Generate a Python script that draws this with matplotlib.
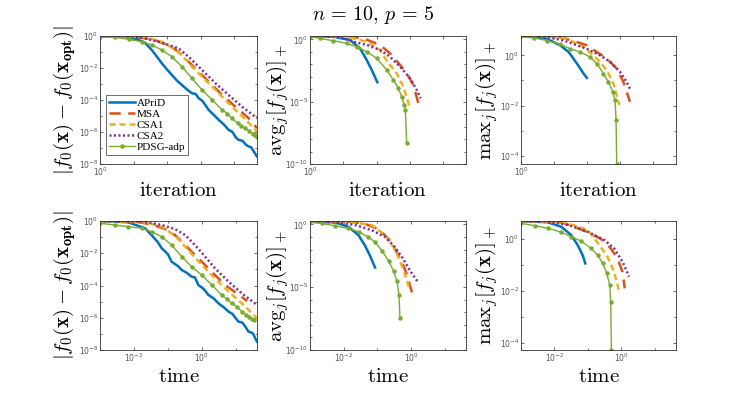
import matplotlib
matplotlib.use("Agg")
import matplotlib.pyplot as plt
from matplotlib.ticker import FixedLocator, FuncFormatter, NullLocator, NullFormatter
import numpy as np

plt.rcParams["mathtext.fontset"] = "dejavusans"
plt.rcParams["font.family"] = ["DejaVu Sans"]

methods = ["APriD", "MSA", "CSA1", "CSA2", "PDSG-adp"]
colours = ["#0072BD", "#D95319", "#EDB120", "#7E2F8E", "#77AC30"]

# every curve is stored as (log10 x, log10 y)
obj_iter = {
    "APriD": ([0, 0.5, 0.85, 1.1, 1.34, 1.54, 1.7, 1.84, 2.0, 2.14, 2.3, 2.44, 2.6, 2.74, 2.85, 2.94, 3.05, 3.24,
               3.4, 3.54, 3.7, 3.83, 3.95, 4.05, 4.13, 4.25, 4.35, 4.43, 4.5, 4.58, 4.68],
              [0, -0.02, -0.08, -0.2, -0.42, -0.87, -1.3, -1.7, -2.1, -2.43, -2.8, -3.06, -3.35, -3.58, -3.62, -3.89,
               -4.05, -4.62, -4.95, -5.24, -5.55, -5.86, -6.0, -6.35, -6.49, -6.55, -6.8, -6.9, -6.95, -7.2, -7.53]),
    "MSA": ([0, 1.05, 1.64, 2.14, 2.44, 2.84, 3.24, 3.64, 4.03, 4.43, 4.68],
            [0, -0.04, -0.25, -0.67, -1.19, -2.02, -2.85, -3.68, -4.41, -5.14, -5.76]),
    "CSA1": ([0, 1.34, 1.84, 2.34, 2.74, 3.14, 3.54, 3.93, 4.33, 4.68],
             [0, -0.08, -0.35, -0.98, -1.91, -2.74, -3.58, -4.41, -5.2, -5.97]),
    "CSA2": ([0, 0.85, 1.34, 1.84, 2.34, 2.64, 3.04, 3.44, 3.83, 4.23, 4.68],
             [0, 0, -0.15, -0.42, -0.77, -1.29, -2.12, -2.95, -3.68, -4.41, -5.14]),
    "PDSG-adp": ([0, 0.45, 0.85, 1.24, 1.54, 1.84, 2.14, 2.44, 2.74, 3.04, 3.34, 3.64, 3.8, 3.93, 4.1, 4.2,
                  4.33, 4.45, 4.55, 4.62, 4.68],
                 [-0.06, -0.08, -0.21, -0.35, -0.56, -0.87, -1.29, -1.91, -2.64, -3.37, -3.99, -4.62, -4.85, -5.14,
                  -5.45, -5.6, -5.76, -5.95, -6.1, -6.2, -6.32]),
}

avg_iter = {
    "APriD": ([0, 0.7, 1.2, 1.5, 1.7, 1.85, 2.02], [0.27, 0.21, -0.05, -0.72, -1.65, -2.45, -3.44]),
    "MSA": ([0, 1.1, 1.6, 2.1, 2.4, 2.7, 2.9, 3.1, 3.25], [0.27, 0.27, 0.08, -0.45, -1.12, -2.05, -2.72, -3.65, -5.12]),
    "CSA1": ([0, 1.1, 1.7, 2.1, 2.32, 2.6, 2.8, 3.0], [0.27, 0.21, -0.19, -0.85, -1.79, -2.72, -3.79, -5.52]),
    "CSA2": ([0, 0.9, 1.3, 1.7, 2.1, 2.4, 2.7, 3.0, 3.2, 3.32],
             [0.27, 0.21, -0.19, -0.45, -0.85, -1.39, -2.19, -3.12, -4.05, -4.72]),
    "PDSG-adp": ([0, 0.3, 0.7, 1.1, 1.4, 1.7, 2.0, 2.3, 2.5, 2.65, 2.75, 2.82, 2.86, 2.9],
                 [0.22, 0.08, -0.11, -0.32, -0.59, -0.99, -1.52, -2.45, -3.25, -3.92, -4.59, -5.25, -5.65, -8.32]),
}

max_iter = {
    "APriD": ([0, 0.78, 1.18, 1.44, 1.69, 1.89, 1.99], [0.77, 0.66, 0.4, 0.13, -0.33, -0.73, -0.9]),
    "MSA": ([0, 0.78, 1.18, 1.59, 1.99, 2.29, 2.59, 2.89, 3.09, 3.29],
            [0.77, 0.77, 0.73, 0.57, 0.4, 0.13, -0.13, -0.53, -1.06, -1.85]),
    "CSA1": ([0, 0.78, 1.38, 1.89, 2.29, 2.59, 2.79, 2.97], [0.77, 0.76, 0.66, 0.33, -0.13, -0.59, -1.12, -1.98]),
    "CSA2": ([0, 0.78, 1.29, 1.69, 1.99, 2.39, 2.69, 2.99, 3.19, 3.31],
             [0.77, 0.73, 0.59, 0.4, 0.26, 0.0, -0.26, -0.66, -1.06, -1.39]),
    "PDSG-adp": ([0, 0.38, 0.78, 1.18, 1.49, 1.79, 2.09, 2.29, 2.49, 2.64, 2.77, 2.84, 2.87, 2.89],
                 [0.77, 0.7, 0.59, 0.44, 0.26, 0.13, -0.07, -0.33, -0.73, -1.06, -1.45, -1.78, -2.58, -4.33]),
}

obj_time = {
    "APriD": ([-3.0, -2.17, -1.67, -1.48, -1.3, -1.18, -1.0, -0.89, -0.7, -0.59, -0.45, -0.3, -0.2, -0.1, 0.05, 0.2,
               0.35, 0.49, 0.65, 0.79, 0.9, 1.08, 1.2, 1.3, 1.38, 1.5, 1.63],
              [0, -0.08, -0.45, -0.87, -1.3, -1.69, -2.05, -2.52, -2.8, -3.04, -3.2, -3.45, -3.5, -3.97, -4.2, -4.59,
               -4.8, -5.1, -5.35, -5.62, -5.75, -6.24, -6.3, -6.6, -6.86, -6.95, -7.48]),
    "MSA": ([-3.0, -1.97, -1.48, -1.08, -0.79, -0.49, -0.2, 0.1, 0.39, 0.69, 0.99, 1.34],
            [0, -0.04, -0.21, -0.5, -0.87, -1.49, -2.11, -2.73, -3.35, -3.97, -4.42, -4.96]),
    "CSA1": ([-3.0, -1.67, -1.18, -0.79, -0.49, -0.2, 0.1, 0.39, 0.79, 1.18, 1.63],
             [0, -0.08, -0.35, -0.91, -1.59, -2.27, -2.93, -3.55, -4.38, -5.1, -6.03]),
    "CSA2": ([-3.0, -1.67, -1.18, -0.79, -0.49, -0.2, 0.1, 0.39, 0.79, 1.18, 1.63],
             [0, -0.04, -0.25, -0.5, -0.87, -1.49, -2.21, -2.93, -3.76, -4.48, -5.21]),
    "PDSG-adp": ([-3.0, -2.56, -2.17, -1.77, -1.48, -1.18, -0.89, -0.59, -0.3, 0.0, 0.3, 0.59, 0.75, 0.89, 1.05,
                  1.18, 1.3, 1.4, 1.47, 1.53],
                 [-0.14, -0.25, -0.35, -0.45, -0.66, -0.97, -1.49, -2.21, -2.83, -3.35, -3.97, -4.59, -4.85, -5.1,
                  -5.35, -5.62, -5.8, -5.95, -6.05, -6.14]),
}

avg_time = {
    "APriD": ([-3.0, -2.26, -1.86, -1.56, -1.37, -1.22, -1.07], [0.22, 0.16, -0.19, -0.86, -1.68, -2.49, -3.43]),
    "MSA": ([-3.0, -1.86, -1.37, -0.97, -0.67, -0.48, -0.28, -0.13, 0.04],
            [0.27, 0.22, 0.05, -0.38, -1.14, -1.95, -2.89, -3.97, -5.54]),
    "CSA1": ([-3.0, -1.86, -1.17, -0.77, -0.52, -0.33, -0.18, -0.06],
             [0.27, 0.22, -0.05, -0.86, -1.81, -2.89, -3.97, -5.05]),
    "CSA2": ([-3.0, -2.16, -1.66, -1.17, -0.77, -0.48, -0.23, -0.03, 0.22],
             [0.27, 0.16, -0.05, -0.46, -1.0, -1.81, -2.76, -3.7, -4.65]),
    "PDSG-adp": ([-3.0, -2.65, -2.26, -1.86, -1.56, -1.27, -1.07, -0.87, -0.67, -0.52, -0.42, -0.36, -0.33],
                 [0.16, 0.08, -0.11, -0.32, -0.59, -1.0, -1.41, -2.08, -2.89, -3.7, -4.51, -5.59, -7.49]),
}

max_time = {
    "APriD": ([-3.0, -2.2, -1.8, -1.5, -1.31, -1.16, -1.08], [0.69, 0.64, 0.47, 0.15, -0.23, -0.62, -0.94]),
    "MSA": ([-3.0, -1.8, -1.41, -1.01, -0.61, -0.32, -0.12, 0.03, 0.1],
            [0.69, 0.64, 0.47, 0.26, 0.0, -0.36, -0.74, -1.26, -1.9]),
    "CSA1": ([-3.0, -1.7, -1.01, -0.66, -0.42, -0.22, -0.07], [0.69, 0.64, 0.35, -0.23, -0.68, -1.26, -2.0]),
    "CSA2": ([-3.0, -2.2, -1.6, -1.01, -0.51, -0.22, 0.03, 0.23], [0.69, 0.67, 0.54, 0.28, -0.04, -0.36, -0.87, -1.45]),
    "PDSG-adp": ([-3.0, -2.59, -2.2, -1.8, -1.5, -1.21, -0.91, -0.71, -0.56, -0.44, -0.35, -0.32, -0.3],
                 [0.6, 0.51, 0.41, 0.26, 0.09, -0.08, -0.36, -0.62, -0.94, -1.32, -1.77, -2.41, -4.27]),
}

styles = {
    "APriD": dict(ls="-", lw=1.8),
    "MSA": dict(ls=(0, (4.5, 3)), lw=1.8),
    "CSA1": dict(ls=(0, (2.5, 1.5)), lw=1.8),
    "CSA2": dict(ls=(0, (0.8, 1.0)), lw=1.8),
    "PDSG-adp": dict(ls="-", lw=1.0, marker="o", ms=2.2),
}

ylabels = [r"$|f_0(\mathbf{x}) - f_0(\mathbf{x_{opt}})|$",
           r"$\mathrm{avg}_j[f_j(\mathbf{x})]_+$",
           r"$\mathrm{max}_j[f_j(\mathbf{x})]_+$"]

W, H = 747, 399
col_x = [100, 310, 521]
col_w = [157, 156, 155]
row_y = [(36, 164), (221, 350)]
ylabel_x = [-0.225, -0.21, -0.22]

panels = [
    [obj_iter, avg_iter, max_iter],
    [obj_time, avg_time, max_time],
]
ylims = [
    [(-8, 0), (-10, 0.27), (-4.33, 0.77)],
    [(-8, 0), (-10, 0.27), (-4.27, 0.69)],
]
yticks = [[0, -2, -4, -6, -8], [0, -5, -10], [0, -2, -4]]
xlims = [(0, 4.68), (-3.0, 1.63)]

fig = plt.figure(figsize=(W / 100, H / 100), dpi=100)


def sci(v, pos):
    return r"$10^{%d}$" % round(np.log10(v))


for r in range(2):
    top, bot = row_y[r]
    for c in range(3):
        ax = fig.add_axes([col_x[c] / W, 1 - bot / H, col_w[c] / W, (bot - top) / H])
        data = panels[r][c]
        for m, col in zip(methods, colours):
            lx, ly = data[m]
            ax.plot(10.0 ** np.array(lx), 10.0 ** np.array(ly), color=col, label=m, **styles[m])
        ax.set_xscale("log")
        ax.set_yscale("log")
        ax.set_xlim(10 ** xlims[r][0], 10 ** xlims[r][1])
        ax.set_ylim(10 ** ylims[r][c][0], 10 ** ylims[r][c][1])

        ymaj = [10.0 ** k for k in yticks[c]]
        ax.yaxis.set_major_locator(FixedLocator(ymaj))
        ax.yaxis.set_major_formatter(FuncFormatter(sci))
        ax.yaxis.set_minor_locator(FixedLocator([10.0 ** k for k in range(-10, 1)]))
        ax.yaxis.set_minor_formatter(NullFormatter())
        if r == 0:
            ax.xaxis.set_major_locator(FixedLocator([10.0 ** k for k in range(0, 5)]))
            ax.xaxis.set_major_formatter(FuncFormatter(lambda v, p: sci(v, p) if abs(v - 1) < 1e-9 else ""))
            ax.xaxis.set_minor_locator(NullLocator())
            xl = r"$\mathrm{iteration}$"
        else:
            ax.xaxis.set_major_locator(FixedLocator([1e-2, 1e0]))
            ax.xaxis.set_major_formatter(FuncFormatter(sci))
            ax.xaxis.set_minor_locator(FixedLocator([1e-3, 1e-1, 1e1]))
            xl = r"$\mathrm{time}$"
        ax.xaxis.set_minor_formatter(NullFormatter())

        ax.tick_params(which="both", direction="in", top=True, right=True, width=0.5,
                       color="#333333", labelsize=5.5, labelcolor="#555555", pad=1.5)
        ax.tick_params(which="major", length=2.5)
        ax.tick_params(which="minor", length=1.5)
        for s in ax.spines.values():
            s.set_linewidth(0.6)
            s.set_color("#333333")

        ax.set_xlabel(xl, fontsize=15, math_fontfamily="cm", labelpad=1)
        ax.set_ylabel(ylabels[c], fontsize=15, math_fontfamily="cm", va="center")
        ax.yaxis.set_label_coords(ylabel_x[c], 0.5)

        if r == 0 and c == 0:
            leg = ax.legend(loc="lower left", bbox_to_anchor=(0.04, 0.07), borderaxespad=0,
                            prop={"family": "Liberation Serif", "size": 8}, fancybox=False,
                            edgecolor="#333333", framealpha=1, handlelength=2.3,
                            handletextpad=0.2, labelspacing=0.12, borderpad=0.25)
            leg.get_frame().set_linewidth(0.5)

fig.text(0.5, 1 - 15 / H, r"$n\,=\,10,\,p\,=\,5$", ha="center", va="center", fontsize=14.5,
         math_fontfamily="cm")

fig.savefig("out.png", dpi=100)
